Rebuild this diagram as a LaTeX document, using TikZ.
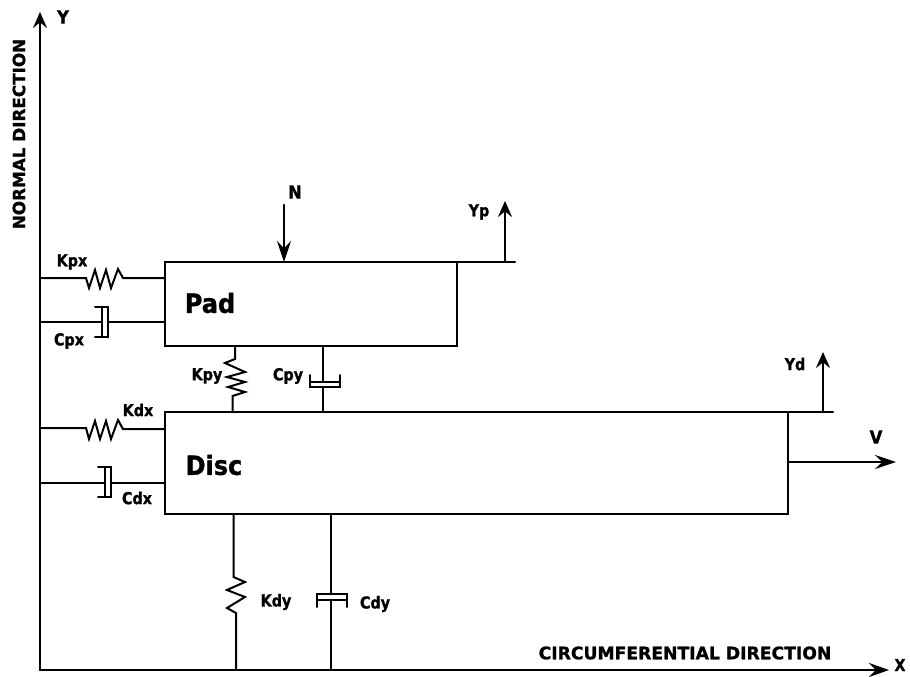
\documentclass[tikz,border=0pt]{standalone}
\usepackage{fontspec}
\setmainfont[BoldFeatures={FakeBold=1.2}]{DejaVu Sans}
\usetikzlibrary{arrows.meta}
\tikzset{
  x=1pt,y=-1pt,
  wire/.style={line width=2.4pt,line cap=round,line join=miter,draw=black},
  thin wire/.style={line width=2pt,line join=miter,line cap=round,draw=black},
  blockbox/.style={draw=black,line width=2.4pt,inner sep=0pt,outer sep=0pt},
  barb/.style={-{Stealth[length=#1,width=14pt,inset=0.35*#1]}},
  barb/.default=16pt,
  lab/.style={font=\bfseries\fontsize{14.3}{15}\selectfont,inner sep=0pt,text=black,yscale=1.15,transform shape},
  biglab/.style={font=\bfseries\fontsize{16.5}{17}\selectfont,inner sep=0pt,text=black,yscale=1.1,transform shape},
  big/.style={font=\bfseries\fontsize{24}{25}\selectfont,inner sep=0pt,text=black,yscale=1.1,transform shape},
  axistext/.style={font=\bfseries\fontsize{16.8}{17}\selectfont,inner sep=0pt,text=black},
}
\begin{document}
\begin{tikzpicture}
\useasboundingbox (0,0) rectangle (910,677);
% anchors
\coordinate (O) at (40,670);
\coordinate (Ytop) at (40,12);
\coordinate (Xend) at (889,670);
% blocks
\node[blockbox,minimum width=292pt,minimum height=84pt] (padbox) at (311,304) {};
\node[blockbox,minimum width=623pt,minimum height=102pt] (discbox) at (476.5,463) {};
\node[big] (pad) at (210,303) {Pad};
\node[big] (disc) at (214,465) {Disc};
% axes
\draw[wire,barb] (O) -- (Ytop);
\draw[wire,barb=20pt] (O) -- (Xend);
\node[biglab] (ylab) at (63,17) {Y};
\node[lab] (xlab) at (900,665) {X};
\node[axistext,rotate=90] (normal) at (19,134) {NORMAL DIRECTION};
\node[axistext,font=\bfseries\fontsize{17.2}{18}\selectfont] (circ) at (685,653) {CIRCUMFERENTIAL DIRECTION};
% extensions
\coordinate (padExt) at (515,262);
\coordinate (discExt) at (833,412);
\draw[wire] (padbox.north east) -- (padExt);
\draw[wire] (discbox.north east) -- (discExt);
% loads
\coordinate (Nstart) at (284,205);
\draw[wire,barb=21pt] (Nstart) -- (Nstart |- padbox.north);
\node[biglab] (N) at (295,192) {N};
\coordinate (YpTip) at (505,201);
\draw[wire,barb] (YpTip |- padExt) -- (YpTip);
\node[lab] (Yp) at (479,212) {Yp};
\coordinate (YdTip) at (823,352);
\draw[wire,barb] (YdTip |- discExt) -- (YdTip);
\node[lab] (Yd) at (795,364) {Yd};
\coordinate (Vtip) at (896,462);
\draw[wire,barb=21pt] (Vtip -| discbox.east) -- (Vtip);
\node[biglab] (V) at (876,437) {V};
% Kpx spring
\coordinate (kpxA) at (40,278);
\draw[thin wire] (kpxA) -- (86,278) -- (89,288) -- (95,270) -- (100,288) -- (106,270) -- (111,288) -- (118,269) -- (123,278) -- (kpxA -| padbox.west);
\node[lab] (Kpx) at (72,262) {Kpx};
% Cpx damper
\coordinate (cpxA) at (40,322);
\coordinate (cpxB) at (108,322);
\draw[wire] (cpxA) -- (101,322);
\draw[wire] (cpxB) -- (cpxB -| padbox.west);
\draw[thin wire] (95,307) -- (108,307) -- (108,337) -- (95,337);
\draw[thin wire] (101.5,307) -- (101.5,337);
\node[lab] (Cpx) at (69,341) {Cpx};
% Kdx spring
\coordinate (kdxA) at (40,428);
\draw[thin wire] (kdxA) -- (86,428) -- (89,439) -- (95,421) -- (100,439) -- (106,421) -- (111,439) -- (118,420) -- (123,429) -- (165,429);
\node[lab] (Kdx) at (138,410) {Kdx};
% Cdx damper
\coordinate (cdxA) at (40,483);
\coordinate (cdxB) at (111,483);
\draw[wire] (cdxA) -- (105,483);
\draw[wire] (cdxB) -- (cdxB -| discbox.west);
\draw[thin wire] (98,467) -- (111,467) -- (111,497) -- (98,497);
\draw[thin wire] (105,467) -- (105,497);
\node[lab] (Cdx) at (137,498) {Cdx};
% Kpy spring
\coordinate (kpyA) at (235,346);
\coordinate (kpyB) at (232.5,412);
\draw[thin wire] (kpyA) -- (235,359) -- (225,363) -- (245,372) -- (227,377) -- (245,382) -- (228,387) -- (245,392) -- (232.5,396) -- (kpyB);
\node[lab] (Kpy) at (207,376) {Kpy};
% Cpy damper
\coordinate (cpyA) at (323,346);
\coordinate (cpyB) at (323,387);
\draw[wire] (cpyA) -- (323,382);
\draw[wire] (cpyB) -- (cpyB |- discbox.north);
\draw[thin wire] (310,375) -- (310,387) -- (340,387) -- (340,375);
\draw[thin wire] (310,382) -- (340,382);
\node[lab] (Cpy) at (288,376) {Cpy};
% Kdy spring
\coordinate (kdyA) at (233.5,514);
\coordinate (kdyB) at (236,670);
\draw[thin wire] (kdyA) -- (233.5,577) -- (245,582) -- (227,590) -- (245,597) -- (227,608) -- (236,613) -- (kdyB);
\node[lab] (Kdy) at (276,602) {Kdy};
% Cdy damper
\coordinate (cdyA) at (331,514);
\coordinate (cdyB) at (331,600);
\draw[wire] (cdyA) -- (331,594);
\draw[wire] (cdyB) -- (cdyB |- O);
\draw[thin wire] (317,607) -- (317,594) -- (347,594) -- (347,607);
\draw[thin wire] (317,600) -- (347,600);
\node[lab] (Cdy) at (375,604) {Cdy};
\end{tikzpicture}
\end{document}
